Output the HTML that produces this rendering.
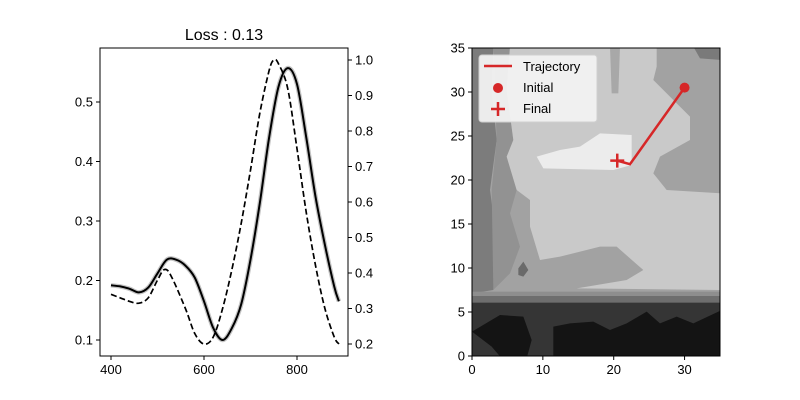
<!DOCTYPE html>
<html><head><meta charset="utf-8"><style>
body{margin:0;background:#fff}
svg{display:block;font-family:"Liberation Sans","DejaVu Sans",sans-serif}
</style></head><body>
<svg id="s" width="800" height="400" viewBox="0 0 800 400">
<rect width="800" height="400" fill="#fff"/>
<defs><clipPath id="cl"><rect x="100" y="48" width="248" height="308"/></clipPath>
<clipPath id="cr"><rect x="472" y="48" width="248" height="308"/></clipPath></defs>
<text x="224" y="40" font-size="16" text-anchor="middle">Loss : 0.13</text>
<g id="left"></g>
<g id="right">
 <g clip-path="url(#cr)">
 <g transform="translate(460,40) scale(0.33333)">
  <rect x="36" y="20" width="750" height="935" fill="#a2a2a2"/>
  <polygon points="36,20 100,20 95,150 110,300 90,450 110,600 100,750 36,760" fill="#7c7c7c"/>
  <polygon points="100,20 150,20 140,150 160,300 140,350 170,450 150,520 180,620 150,700 100,750 95,450 110,300" fill="#929292"/>
  <polygon points="700,20 786,20 786,60 720,55" fill="#7a7a7a"/>
  <polygon points="150,20 590,20 590,80 580,120 690,230 690,300 600,350 580,400 620,450 786,460 786,750 350,745 500,720 550,690 470,620 420,620 300,650 240,660 210,560 210,480 170,450 140,350 160,300 140,150" fill="#c9c9c9"/>
  <polygon points="450,20 480,20 475,160 455,160" fill="#a8a8a8"/>
  <polygon points="230,350 300,330 360,320 420,280 515,285 515,375 460,390 250,385" fill="#ececec"/>
  <polygon points="175,685 190,665 205,690 190,710 175,705" fill="#6a6a6a"/>
  <rect x="36" y="755" width="750" height="20" fill="#8e8e8e"/>
  <rect x="36" y="768" width="750" height="22" fill="#6e6e6e"/>
  <rect x="36" y="788" width="750" height="167" fill="#353535"/>
  <polygon points="36,875 120,825 190,830 215,900 200,955 125,955 95,920" fill="#141414"/>
  <polygon points="280,860 330,850 400,845 450,870 500,850 560,815 600,850 650,830 700,850 786,810 786,955 280,955" fill="#141414"/>
 </g>
 </g>
</g>
</svg>
<script>
const NS="http://www.w3.org/2000/svg";
const waveX=[400,420,440,460,480,500,520,540,560,580,600,620,640,660,680,700,720,740,760,780,800,820,840,860,880,890];
const lossY=[0.192,0.190,0.186,0.180,0.188,0.212,0.235,0.235,0.225,0.205,0.165,0.120,0.100,0.120,0.160,0.235,0.330,0.440,0.525,0.557,0.530,0.440,0.340,0.260,0.190,0.165];
const dashX=[400,420,440,460,480,500,515,530,560,580,600,620,640,660,680,700,720,740,750,760,780,800,820,840,860,880,890];
const dashY=[0.34,0.33,0.32,0.315,0.33,0.38,0.41,0.39,0.30,0.23,0.20,0.22,0.30,0.41,0.54,0.69,0.85,0.97,1.0,0.99,0.92,0.75,0.57,0.42,0.30,0.22,0.20];
const leftXTicks=[400,600,800];
const leftYTicks=[0.1,0.2,0.3,0.4,0.5];
const rightYTicks=[0.2,0.3,0.4,0.5,0.6,0.7,0.8,0.9,1.0];
const gridTicks=[0,5,10,15,20,25,30,35];
const gridXTicks=[0,10,20,30];
const trajX=[30,22.3,20.5];
const trajY=[30.5,21.8,22.2];
const lx=v=>111+(v-400)*0.465;
const ly=v=>340-(v-0.1)*595;
const ry=v=>344-(v-0.2)*355;
const gx=v=>472+v*248/35;
const gy=v=>356-v*308/35;
function mk(t,a,p){const e=document.createElementNS(NS,t);for(const k in a)e.setAttribute(k,a[k]);p.appendChild(e);return e;}
const L=document.getElementById('left'),R=document.getElementById('right');
const cg=mk('g',{'clip-path':'url(#cl)'},L);
function dsm(xs,ys,sx,sy){
 const p=xs.map((x,i)=>[sx(x),sy(ys[i])]);
 let d='M'+p[0][0].toFixed(1)+','+p[0][1].toFixed(1);
 for(let i=0;i<p.length-1;i++){
  const p0=p[Math.max(0,i-1)],p1=p[i],p2=p[i+1],p3=p[Math.min(p.length-1,i+2)];
  const c1=[p1[0]+(p2[0]-p0[0])/6,p1[1]+(p2[1]-p0[1])/6];
  const c2=[p2[0]-(p3[0]-p1[0])/6,p2[1]-(p3[1]-p1[1])/6];
  d+='C'+c1[0].toFixed(1)+','+c1[1].toFixed(1)+' '+c2[0].toFixed(1)+','+c2[1].toFixed(1)+' '+p2[0].toFixed(1)+','+p2[1].toFixed(1);
 }
 return d;
}
let e=mk('path',{d:dsm(waveX,lossY,lx,ly),fill:'none',stroke:'#c4c4c4','stroke-width':4.5,'stroke-linejoin':'round'},cg);


e=mk('path',{d:dsm(waveX,lossY,lx,ly),fill:'none',stroke:'#000','stroke-width':2,'stroke-linejoin':'round'},cg);


e=mk('path',{d:dsm(dashX,dashY,lx,ry),fill:'none',stroke:'#000','stroke-width':1.7,'stroke-dasharray':'6,3'},cg);


e=mk('rect',{x:100,y:48,width:248,height:308,fill:'none',stroke:'#000','stroke-width':1},L);


leftXTicks.forEach(t=>{mk('line',{x1:lx(t),x2:lx(t),y1:356,y2:360,stroke:'#000'},L);
 e=mk('text',{x:lx(t),y:374,'font-size':13,'text-anchor':'middle'},L);e.textContent=t;
 
 });
leftYTicks.forEach(t=>{mk('line',{x1:96,x2:100,y1:ly(t),y2:ly(t),stroke:'#000'},L);
 e=mk('text',{x:93,y:ly(t)+4.5,'font-size':13,'text-anchor':'end'},L);e.textContent=t.toFixed(1);
 
 });
rightYTicks.forEach(t=>{mk('line',{x1:348,x2:352,y1:ry(t),y2:ry(t),stroke:'#000'},L);
 e=mk('text',{x:355,y:ry(t)+4.5,'font-size':13},L);e.textContent=t.toFixed(1);
 
 });
const tg=mk('g',{'clip-path':'url(#cr)'},R);
e=mk('polyline',{points:trajX.map((x,i)=>gx(x)+','+gy(trajY[i])).join(' '),fill:'none',stroke:'#d62728','stroke-width':2.5},tg);


e=mk('circle',{cx:gx(trajX[0]),cy:gy(trajY[0]),r:5,fill:'#d62728'},tg);


const fx=gx(trajX[2]),fy=gy(trajY[2]);
e=mk('path',{d:'M'+(fx-7)+','+fy+'H'+(fx+7)+'M'+fx+','+(fy-7)+'V'+(fy+7),stroke:'#d62728','stroke-width':2.5},tg);


e=mk('rect',{x:472,y:48,width:248,height:308,fill:'none',stroke:'#000'},R);


gridXTicks.forEach(t=>{mk('line',{x1:gx(t),x2:gx(t),y1:356,y2:360,stroke:'#000'},R);
 e=mk('text',{x:gx(t),y:374,'font-size':13,'text-anchor':'middle'},R);e.textContent=t;
 
 });
gridTicks.forEach(t=>{mk('line',{x1:468,x2:472,y1:gy(t),y2:gy(t),stroke:'#000'},R);
 e=mk('text',{x:465,y:gy(t)+4.5,'font-size':13,'text-anchor':'end'},R);e.textContent=t;
 
 });
const lg=mk('g',{},R);


mk('rect',{x:479,y:55,width:118,height:67,rx:3,fill:'#f2f2f2','fill-opacity':0.95,stroke:'#d0d0d0'},lg);
mk('line',{x1:484,x2:512,y1:66,y2:66,stroke:'#d62728','stroke-width':2.5},lg);
mk('circle',{cx:498,cy:88,r:5,fill:'#d62728'},lg);
mk('path',{d:'M491,109H505M498,102V116',stroke:'#d62728','stroke-width':2.5},lg);
[['Trajectory',71],['Initial',92],['Final',113]].forEach(([t,y])=>{e=mk('text',{x:523,y:y,'font-size':13},lg);e.textContent=t;
 
 });
</script>
</body></html>
